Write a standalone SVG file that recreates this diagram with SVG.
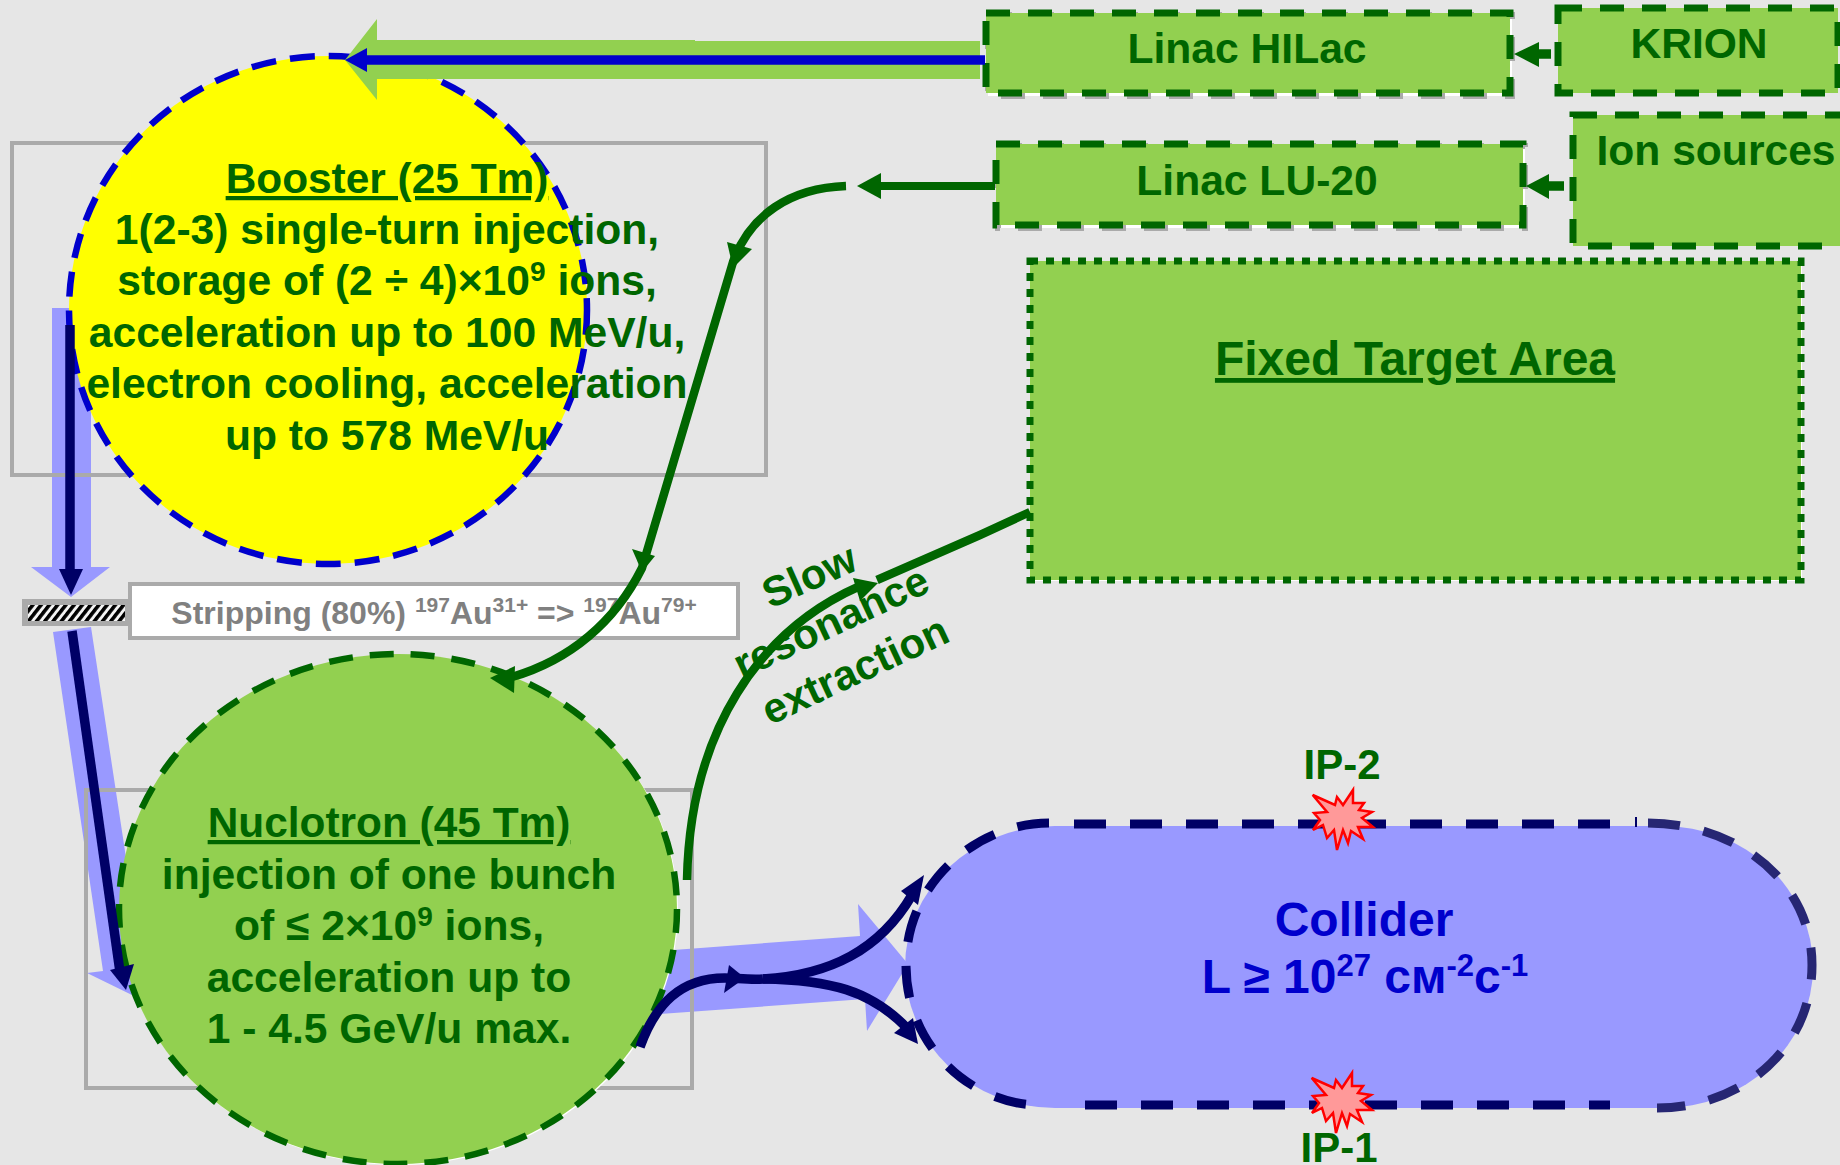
<svg xmlns="http://www.w3.org/2000/svg" width="1840" height="1165" viewBox="0 0 1840 1165">
<style>
text{font-family:"Liberation Sans",Arial,sans-serif;font-weight:700;font-size:42.6px;fill:#006600;text-anchor:middle}
.u{text-decoration:underline}
.frame{fill:none;stroke:#aaaaaa;stroke-width:4}
.box{fill:#92d050;stroke:#006600;stroke-width:7;stroke-dasharray:24 18}
.shadow{fill:#ffffff;stroke:#aaaaaa;stroke-width:6;stroke-dasharray:24 18}
.lb{fill:#9999ff}
.g{fill:none;stroke:#006600;stroke-width:8.5}
.gh{fill:#006600}
.n{fill:none;stroke:#000066;stroke-width:9.5}
.nh{fill:#000066}
.cd{fill:none;stroke:#000066;stroke-width:9;stroke-dasharray:32 24}
.star{fill:#ff9999;stroke:#ff0000;stroke-width:2.5;stroke-linejoin:miter}
.blue{fill:#0000cc;font-size:48px}
.sup{font-size:28px}
.ssup{font-size:21px}
.csup{font-size:31px}
.title{font-size:42.4px}
.lab{font-size:42px}
</style>
<defs>
<pattern id="hatch" width="6.5" height="8" patternUnits="userSpaceOnUse" patternTransform="rotate(38)">
<rect width="6.5" height="8" fill="#f4f4f4"/><rect width="3.6" height="8" fill="#000000"/>
</pattern>
<polygon id="burst" points="22.7,15 45,25 47,17 53,25 63,10 63,23 74,23 69,30 82,32 72,38 83,47 68,47 73,59 61,51 58,63 53,50 47,70 44,50 37,58 33,45 23,50 30,40 24,33 37,32"/>
</defs>
<rect width="1840" height="1165" fill="#e6e6e6"/>

<g id="connectors-under">
<polygon class="lb" points="52,308 91,308 91,567 110,567 71,597 31,567 52,567"/>
<polygon class="lb" points="53,632 91,627 140,950 132,995 87,973 103,971"/>
<polygon class="lb" points="660,951 860,936 858,904 908,964 867,1031 865,999 660,1014"/>
</g>

<g id="frames">
<rect class="frame" x="12" y="143" width="754" height="332"/>
<rect class="frame" x="86" y="790" width="606" height="298"/>
</g>

<g id="booster">
<ellipse cx="328" cy="310" rx="259" ry="254" fill="#ffff00" stroke="#0000cc" stroke-width="6.5" stroke-dasharray="25 14"/>
<text x="387" y="193" class="u title">Booster (25 Tm)</text>
<text x="387" y="244">1(2-3) single-turn injection,</text>
<text x="387" y="295">storage of (2 ÷ 4)×10<tspan class="sup" dy="-14">9</tspan><tspan dy="14"> ions,</tspan></text>
<text x="387" y="347">acceleration up to 100 MeV/u,</text>
<text x="387" y="398">electron cooling, acceleration</text>
<text x="387" y="450">up to 578 MeV/u</text>
</g>

<g id="nuclotron">
<ellipse cx="399" cy="910" rx="279" ry="255" fill="#ffffff"/>
<ellipse cx="398" cy="909" rx="279" ry="255" fill="#92d050" stroke="#006600" stroke-width="6.5" stroke-dasharray="24 17"/>
<text x="389" y="837" class="u title">Nuclotron (45 Tm)</text>
<text x="389" y="889">injection of one bunch</text>
<text x="389" y="940">of ≤ 2×10<tspan class="sup" dy="-14">9</tspan><tspan dy="14"> ions,</tspan></text>
<text x="389" y="992">acceleration up to</text>
<text x="389" y="1043">1 - 4.5 GeV/u max.</text>
</g>

<g id="stripper">
<rect x="22" y="599" width="108" height="27" fill="#aaaaaa"/>
<rect x="28" y="605" width="97" height="16" fill="url(#hatch)"/>
</g>

<g id="stripping">
<rect x="130" y="584" width="608" height="54" fill="#ffffff" stroke="#aaaaaa" stroke-width="4"/>
<text x="434" y="624" style="font-size:32px;fill:#808080">Stripping (80%) <tspan class="ssup" dy="-12">197</tspan><tspan dy="12">Au</tspan><tspan class="ssup" dy="-12">31+</tspan><tspan dy="12"> =&gt; </tspan><tspan class="ssup" dy="-12">197</tspan><tspan dy="12">Au</tspan><tspan class="ssup" dy="-12">79+</tspan></text>
</g>

<g id="linac-hilac">
<rect class="shadow" x="988" y="15" width="524" height="81"/>
<rect class="box" x="986" y="13" width="524" height="80"/>
<text x="1247" y="63">Linac HILac</text>
</g>
<g id="krion">
<rect class="box" x="1558" y="8" width="280" height="85"/>
<text x="1699" y="58">KRION</text>
</g>
<g id="linac-lu20">
<rect class="shadow" x="998" y="146" width="527" height="82"/>
<rect class="box" x="996" y="144" width="527" height="81"/>
<text x="1257" y="195">Linac LU-20</text>
</g>
<g id="ion-sources">
<rect class="box" x="1573" y="115" width="290" height="131"/>
<text x="1716" y="165">Ion sources</text>
</g>
<g id="fixed-target">
<rect x="1031" y="261" width="771" height="320" fill="#ffffff"/>
<rect class="box" x="1030" y="261" width="771" height="319" style="stroke-dasharray:8 8"/>
<text x="1415" y="375" class="u" style="font-size:48px">Fixed Target Area</text>
</g>

<g id="collider">
<rect x="905" y="826" width="908" height="282" rx="150" ry="141" fill="#9999ff"/>
<path class="cd" d="M1049,823 C980,823 906,880 906,965 C906,1050 975,1105 1039,1105"/>
<path class="cd" d="M1648,823 C1735,823 1812,880 1812,965 C1812,1050 1740,1108 1657,1108" style="stroke:#262673"/>
<path class="cd" d="M1074,824 H1612"/>
<path class="cd" d="M1085,1105 H1610"/>
<path d="M1636,817 V827" stroke="#000066" stroke-width="2" fill="none"/>
<text x="1364" y="936" class="blue">Collider</text>
<text x="1365" y="993" class="blue">L ≥ 10<tspan class="csup" dy="-17">27</tspan><tspan dy="17"> см</tspan><tspan class="csup" dy="-17">-2</tspan><tspan dy="17">с</tspan><tspan class="csup" dy="-17">-1</tspan></text>
</g>

<g id="ip-2">
<use href="#burst" class="star" x="1290" y="780"/>
<text x="1342" y="779" class="lab">IP-2</text>
</g>
<g id="ip-1">
<use href="#burst" class="star" x="1289" y="1063"/>
<text x="1339" y="1162" class="lab">IP-1</text>
</g>

<g id="connectors">
<polygon points="377,40 695,40 695,41 980,41 980,79 377,79 377,100 345,60 377,19" fill="#92d050"/>
<path d="M985,60 H365" fill="none" stroke="#0000cc" stroke-width="9.5"/>
<polygon points="345,60 367,48 367,72" fill="#0000cc"/>

<path d="M70,325 V575" class="n"/>
<polygon class="nh" points="59,569 83,569 71,595"/>
<path d="M72,631 L120,972" class="n"/>
<polygon class="nh" points="126,990 110,970 134,964"/>

<path d="M1551,54 H1535" class="g" style="stroke-width:9.5"/>
<polygon class="gh" points="1514,54 1539,42 1539,67"/>
<path d="M1564,186 H1545" class="g" style="stroke-width:9.5"/>
<polygon class="gh" points="1526,186 1549,174 1549,199"/>

<path d="M995,186 H875" class="g" style="stroke-width:8"/>
<polygon class="gh" points="857,186 881,173 881,199"/>
<path d="M846,186 C790,188 750,215 733,262 L642,568 C615,622 570,660 512,677" class="g"/>
<polygon class="gh" points="733,268 727,242 752,249"/>
<polygon class="gh" points="642,572 632,549 655,556"/>
<polygon class="gh" points="490,678 515,666 514,693"/>

<path d="M687,880 C690,730 760,630 860,586" class="g"/>
<polygon class="gh" points="878,583 853,578 860,601"/>
<path d="M877,580 L980,535 L1030,512" class="g"/>

<path d="M640,1047 C655,1005 680,978 725,978 C735,978 750,980 763,979" class="n"/>
<polygon class="nh" points="745,978 729,965 724,993"/>
<path d="M763,979 C830,975 880,950 912,895" class="n"/>
<polygon class="nh" points="924,875 901,891 918,905"/>
<path d="M763,979 C830,980 870,990 907,1028" class="n"/>
<polygon class="nh" points="918,1044 894,1033 913,1018"/>
</g>

<g id="extraction-label">
<text class="lab" transform="translate(815,589) rotate(-24)">Slow</text>
<text class="lab" transform="translate(837,635) rotate(-25)">resonance</text>
<text class="lab" transform="translate(861,683) rotate(-25)">extraction</text>
</g>
</svg>
